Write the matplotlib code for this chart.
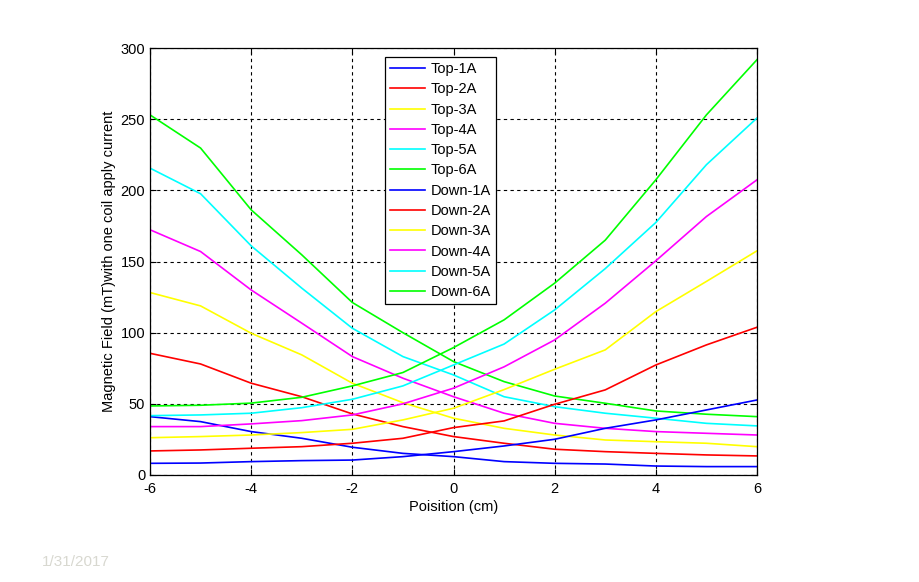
import matplotlib
matplotlib.use("Agg")
import matplotlib.pyplot as plt

## Data

position = [-6, -5, -4, -3, -2, -1, 0, 1, 2, 3, 4, 5, 6]

top_1a = [41, 37.5, 30.5, 25.8, 19.5, 15.2, 12.9, 9.4, 8.2, 7.7, 6.3, 5.9, 5.9]
top_2a = [85.5, 78, 64.5, 55, 42.9, 34, 27, 22.3, 18.1, 16.4, 15.2, 14.1, 13.4]
top_3a = [128.2, 118.8, 99.6, 84.4, 64.5, 50.8, 39.9, 32.8, 28.1, 24.6, 23.4, 22.3, 19.9]
top_4a = [172.3, 157, 130, 106.7, 83.2, 68, 55, 43.4, 36.3, 32.8, 30.5, 29.3, 28.1]
top_5a = [215.6, 197.6, 161, 131.3, 103.1, 83.2, 70.3, 55, 48, 43.4, 39.9, 36.3, 34.5]
top_6a = [253, 229.7, 186.3, 154.7, 121.2, 100, 79.7, 65.6, 55.5, 50.4, 45, 42.7, 41]

down_1a = [8.2, 8.4, 9.4, 10.1, 10.5, 12.9, 16.4, 20.4, 25.1, 32.8, 38.7, 45.7, 52.7]
down_2a = [16.9, 17.6, 18.8, 19.9, 22.3, 25.8, 33.3, 38, 49.7, 59.8, 77.3, 91.4, 103.8]
down_3a = [26.2, 27, 28.1, 29.8, 32.1, 38.7, 46.9, 60, 74.3, 87.9, 114.8, 136, 157.5]
down_4a = [34, 34, 35.9, 38.2, 42.2, 50, 61, 76, 94.9, 120.7, 150.5, 181.6, 207.4]
down_5a = [41.7, 42.2, 43.4, 47.3, 53.2, 62.6, 77.3, 92, 116, 145, 177.4, 218, 250.8]
down_6a = [48.5, 49, 50.5, 54.6, 62.6, 72, 89.5, 109, 134.8, 165, 207.4, 253, 291.8]

top_series = [top_1a, top_2a, top_3a, top_4a, top_5a, top_6a]
down_series = [down_1a, down_2a, down_3a, down_4a, down_5a, down_6a]
currents = ["1A", "2A", "3A", "4A", "5A", "6A"]
colors = ["#0000ff", "#ff0000", "#ffff00", "#ff00ff", "#00ffff", "#00ff00"]

xticks = [-6, -4, -2, 0, 2, 4, 6]
yticks = [0, 50, 100, 150, 200, 250, 300]

## Plot

plt.rcParams["font.family"] = ["Liberation Sans", "DejaVu Sans"]
plt.rcParams["font.size"] = 10
plt.rcParams["axes.unicode_minus"] = False

fig = plt.figure(figsize=(9.2, 5.82), dpi=100)
ax = fig.add_axes([150 / 920, 1 - 475 / 582, 607 / 920, 427 / 582])

for vals, cur, col in zip(top_series, currents, colors):
    ax.plot(position, vals, color=col, lw=1.2, label="Top-" + cur)
for vals, cur, col in zip(down_series, currents, colors):
    ax.plot(position, vals, color=col, lw=1.2, label="Down-" + cur)

ax.set_xlim(-6, 6)
ax.set_ylim(0, 300)
ax.set_xticks(xticks)
ax.set_yticks(yticks)
ax.tick_params(direction="in", top=True, right=True, length=4, labelsize=10.5)
ax.tick_params(axis="x", pad=5)
ax.grid(True, color="black", linestyle=(0, (3, 3)), linewidth=0.8)
for s in ax.spines.values():
    s.set_linewidth(0.9)

ax.set_xlabel("Poisition (cm)", fontsize=10.5, labelpad=3)
ax.set_ylabel("Magnetic Field (mT)with one coil apply current", fontsize=10.5, labelpad=3)

leg = ax.legend(loc="upper left", bbox_to_anchor=(0.387, 0.979), fontsize=10.5,
                frameon=True, fancybox=False, edgecolor="black", framealpha=1,
                labelspacing=0.43, handlelength=2.4, handletextpad=0.4,
                borderpad=0.35, borderaxespad=0)
leg.get_frame().set_linewidth(0.9)

fig.text(42 / 920, 1 - 562 / 582, "1/31/2017", color="#d8d8d0", fontsize=11,
         ha="left", va="center")

fig.savefig("out.png", dpi=100)
